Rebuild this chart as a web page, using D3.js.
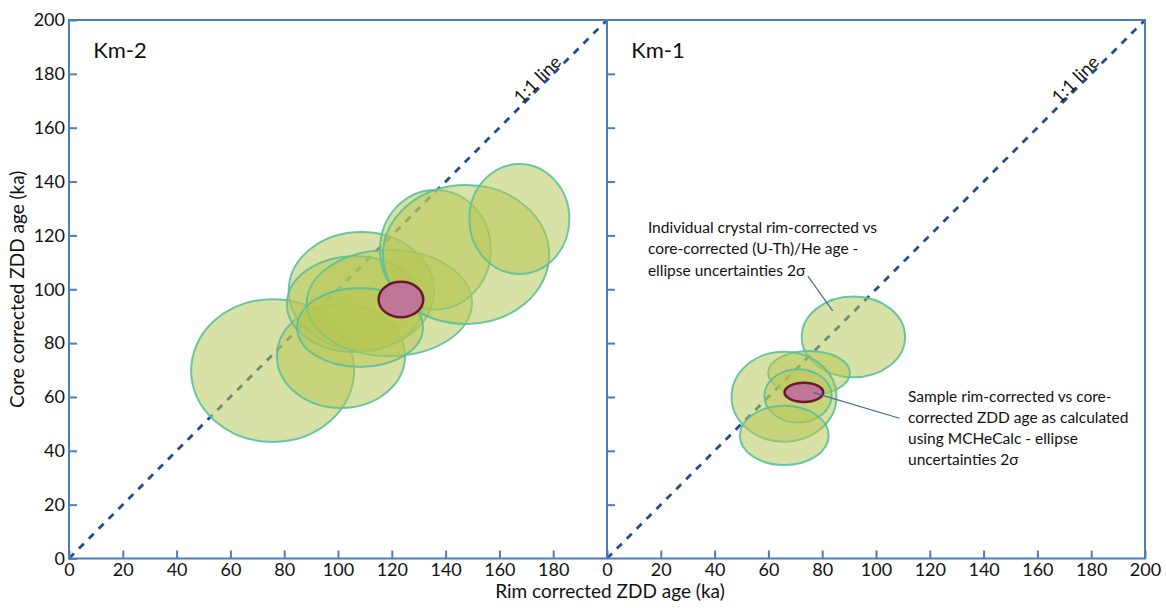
<!DOCTYPE html>
<html>
<head>
<meta charset="utf-8">
<script src="https://cdn.jsdelivr.net/npm/d3@7/dist/d3.min.js"></script>
<style>
  body { margin: 0; background: #fff; }
  svg { display: block; font-family: Lato, "Open Sans", sans-serif; }
</style>
</head>
<body>
<svg id="chart" width="1166" height="608"></svg>
<script>
// Km-2 individual crystals (rim-corrected vs core-corrected, 2 sigma)
const km2Rim     = [75.7, 101.1, 108.7, 106.3, 119.1, 108.2, 136.2, 147.6, 167.4];
const km2RimErr  = [30.3, 23.8, 27.0, 25.3, 30.7, 23.4, 20.6, 30.9, 18.6];
const km2Core    = [69.8, 75.2, 99.4, 94.5, 94.9, 85.8, 114.7, 112.9, 126.1];
const km2CoreErr = [26.5, 19.3, 21.9, 17.8, 19.7, 14.7, 22.2, 25.8, 20.4];
const km2Sample  = { rim: 123.4, rimErr: 8.3, core: 96.2, coreErr: 6.6 };

// Km-1 individual crystals
const km1Rim     = [91.6, 75.1, 65.8, 71.0, 65.9];
const km1RimErr  = [19.2, 15.2, 19.5, 12.5, 16.5];
const km1Core    = [82.3, 68.9, 60.1, 60.4, 45.7];
const km1CoreErr = [15.0, 8.2, 16.7, 9.9, 11.0];
const km1Sample  = { rim: 73.2, rimErr: 7.2, core: 61.7, coreErr: 3.6 };

const leftXTicks  = [0, 20, 40, 60, 80, 100, 120, 140, 160, 180];
const rightXTicks = [0, 20, 40, 60, 80, 100, 120, 140, 160, 180, 200];
const yTicks      = [0, 20, 40, 60, 80, 100, 120, 140, 160, 180, 200];

const crystalNote = ["Individual crystal rim-corrected vs", "core-corrected (U-Th)/He age -", "ellipse uncertainties 2σ"];
const sampleNote  = ["Sample rim-corrected vs core-", "corrected ZDD age as calculated", "using MCHeCalc - ellipse", "uncertainties 2σ"];

const axisColor = "#4a7dbd";
const svg = d3.select("#chart");

const y = d3.scaleLinear().domain([0, 200]).range([558.5, 20]);
const xL = d3.scaleLinear().domain([0, 200]).range([69, 607]);
const xR = d3.scaleLinear().domain([0, 200]).range([607, 1145]);

function zip(rim, rimErr, core, coreErr) {
  return rim.map((r, i) => ({ rim: r, rimErr: rimErr[i], core: core[i], coreErr: coreErr[i] }));
}

function drawPanel(x, crystals, sample, title) {
  const g = svg.append("g");

  // 1:1 line
  g.append("line")
    .attr("x1", x(0)).attr("y1", y(0))
    .attr("x2", x(200)).attr("y2", y(200))
    .attr("stroke", "#1f4f8f")
    .attr("stroke-width", 2.8)
    .attr("stroke-dasharray", "7,7");

  const [lx, ly] = [x(176), y(176)];
  const ang = Math.atan2(y(200) - y(0), x(200) - x(0)) * 180 / Math.PI;
  g.append("text")
    .attr("transform", `translate(${lx},${ly}) rotate(${ang}) translate(0,-1)`)
    .attr("text-anchor", "middle")
    .style("font-size", "18px")
    .attr("fill", "#111")
    .text("1:1 line");

  g.selectAll(".crystal")
    .data(crystals)
    .join("ellipse")
    .attr("class", "crystal")
    .attr("cx", d => x(d.rim))
    .attr("cy", d => y(d.core))
    .attr("rx", d => x(d.rimErr) - x(0))
    .attr("ry", d => y(0) - y(d.coreErr))
    .attr("fill", "#b6c855")
    .attr("fill-opacity", 0.52)
    .attr("stroke", "#5cc09a")
    .attr("stroke-opacity", 0.9)
    .attr("stroke-width", 2);

  g.append("ellipse")
    .attr("cx", x(sample.rim))
    .attr("cy", y(sample.core))
    .attr("rx", x(sample.rimErr) - x(0))
    .attr("ry", y(0) - y(sample.coreErr))
    .attr("fill", "#c07696")
    .attr("stroke", "#6b1a2a")
    .attr("stroke-width", 2.5);

  g.append("text")
    .attr("x", x(9)).attr("y", 58)
    .style("font-size", "22px")
    .attr("fill", "#111")
    .text(title);
}

drawPanel(xL, zip(km2Rim, km2RimErr, km2Core, km2CoreErr), km2Sample, "Km-2");
drawPanel(xR, zip(km1Rim, km1RimErr, km1Core, km1CoreErr), km1Sample, "Km-1");

// annotations (right panel)
const ann = svg.append("g").style("font-size", "15.5px").attr("fill", "#111");
ann.append("line")
  .attr("x1", xR(74.7)).attr("y1", y(104.9))
  .attr("x2", xR(83.9)).attr("y2", y(92.0))
  .attr("stroke", "#3d6ea5").attr("stroke-width", 1.2);
ann.append("line")
  .attr("x1", xR(76.7)).attr("y1", y(61.6))
  .attr("x2", xR(108.7)).attr("y2", y(52.1))
  .attr("stroke", "#3d6ea5").attr("stroke-width", 1.2);
ann.selectAll(".n1").data(crystalNote).join("text")
  .attr("x", xR(15.2)).attr("y", (d, i) => 232.5 + i * 21.5)
  .text(d => d);
ann.selectAll(".n2").data(sampleNote).join("text")
  .attr("x", 908).attr("y", (d, i) => 401.5 + i * 21)
  .text(d => d);

// axes
function styleAxis(sel) {
  sel.select(".domain").remove();
  sel.selectAll(".tick line").attr("stroke", axisColor).attr("stroke-width", 2);
  sel.selectAll(".tick text").attr("fill", "#111").style("font-size", "18px").style("font-family", "Lato, sans-serif");
}

svg.append("g")
  .attr("transform", `translate(0,${y(0)})`)
  .call(d3.axisBottom(xL).tickValues(leftXTicks).tickSizeInner(-8).tickSizeOuter(0).tickPadding(5))
  .call(styleAxis);

svg.append("g")
  .attr("transform", `translate(0,${y(0)})`)
  .call(d3.axisBottom(xR).tickValues(rightXTicks).tickSizeInner(-8).tickSizeOuter(0).tickPadding(5))
  .call(styleAxis);

svg.append("g")
  .attr("transform", `translate(${xL(0)},0)`)
  .call(d3.axisLeft(y).tickValues(yTicks).tickSizeInner(-8).tickSizeOuter(0).tickPadding(4))
  .call(styleAxis);

svg.append("g")
  .attr("transform", `translate(${xR(0)},0)`)
  .call(d3.axisLeft(y).tickValues(yTicks.slice(1, -1)).tickSizeInner(-8).tickSizeOuter(0).tickFormat(""))
  .call(styleAxis);

// frame
const frame = svg.append("g").attr("stroke", axisColor).attr("stroke-width", 2).attr("fill", "none");
frame.append("rect")
  .attr("x", xL(0)).attr("y", y(200))
  .attr("width", xR(200) - xL(0)).attr("height", y(0) - y(200));
frame.append("line")
  .attr("x1", xR(0)).attr("y1", y(0)).attr("x2", xR(0)).attr("y2", y(200));

// axis titles
svg.append("text")
  .attr("x", 610).attr("y", 598)
  .attr("text-anchor", "middle")
  .style("font-size", "19px").attr("fill", "#111")
  .text("Rim corrected ZDD age (ka)");

svg.append("text")
  .attr("transform", `translate(24,${(y(0) + y(200)) / 2}) rotate(-90)`)
  .attr("text-anchor", "middle")
  .style("font-size", "19px").attr("fill", "#111")
  .text("Core corrected ZDD age (ka)");
</script>
</body>
</html>
